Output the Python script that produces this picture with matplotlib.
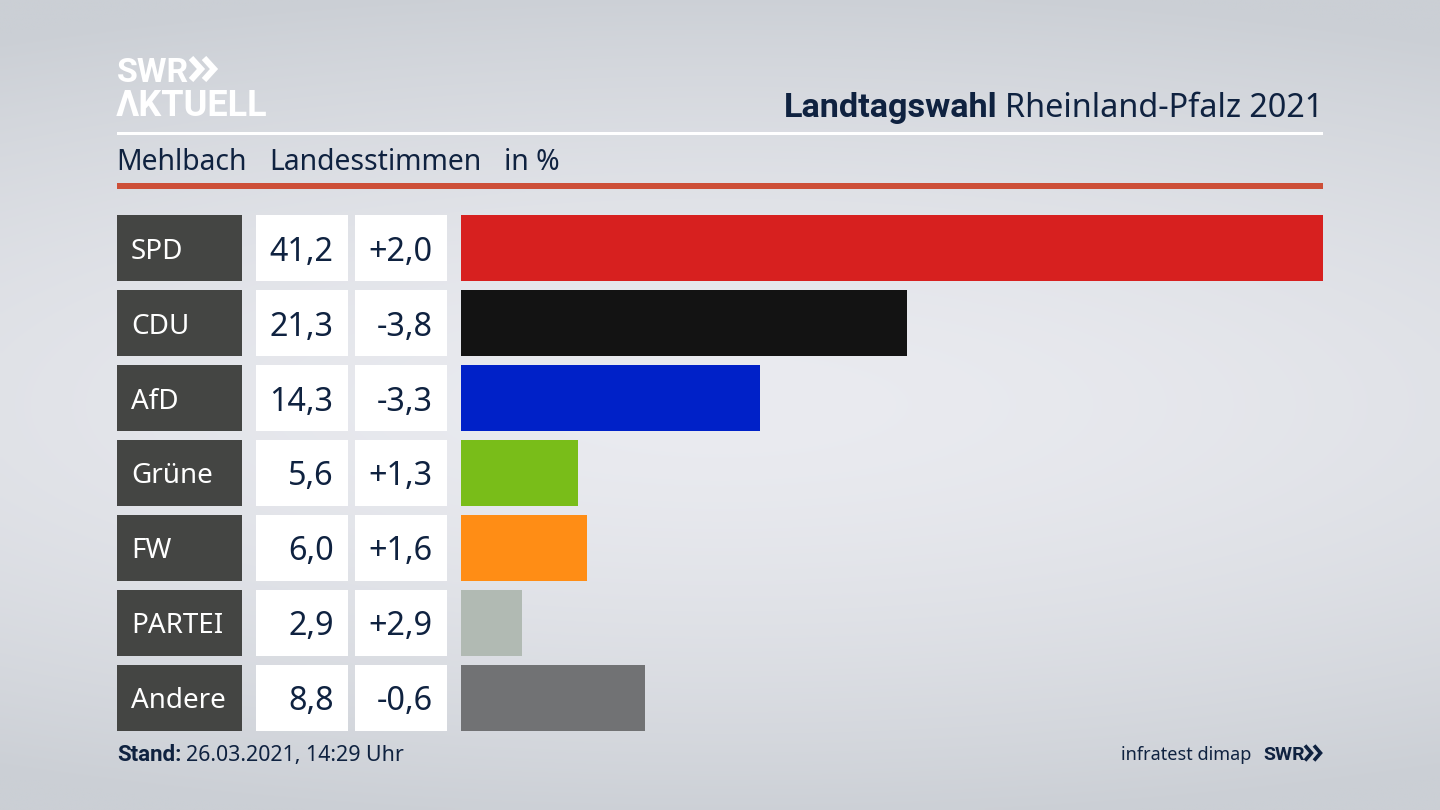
import numpy as np
import matplotlib
matplotlib.use('Agg')
import matplotlib.pyplot as plt

parties = ['SPD', 'CDU', 'AfD', 'Grüne', 'FW', 'PARTEI', 'Andere']
shares = [41.2, 21.3, 14.3, 5.6, 6.0, 2.9, 8.8]
share_labels = ['41,2', '21,3', '14,3', '5,6', '6,0', '2,9', '8,8']
diff_labels = ['+2,0', '-3,8', '-3,3', '+1,3', '+1,6', '+2,9', '-0,6']
colors = ['#d7201f', '#131313', '#0021c8', '#79bd19', '#ff8d15', '#b1bab3', '#717274']

NAVY = '#0f2240'
FONT = 'Noto Sans'
BOLD = 'Roboto'
W, H = 1440, 810
fig = plt.figure(figsize=(W/100, H/100), dpi=100)

# background and page furniture, in pixel coordinates
bg = fig.add_axes([0, 0, 1, 1])
bg.set_xlim(0, W); bg.set_ylim(H, 0); bg.axis('off')
yy, xx = np.mgrid[0:1:200j, 0:1:356j]
d = np.sqrt(((xx-0.5)/1.05)**2 + ((yy-0.5)/0.52)**2)
t = np.clip(d, 0, 1)**1.6
top = np.array([0xea, 0xeb, 0xf0]); edge = np.array([0xcb, 0xcf, 0xd5])
img = top[None, None, :]*(1-t[..., None]) + edge[None, None, :]*t[..., None]
bg.imshow(img/255, extent=[0, W, H, 0], aspect='auto', interpolation='bilinear', zorder=0)

bg.fill_between([117, 1323], 132, 135, color='white', lw=0, zorder=1)
bg.fill_between([117, 1323], 183, 188.5, color='#cd4f38', lw=0, zorder=1)

# logo
bg.text(117, 82, 'SWR', color='white', fontsize=24.4, fontweight='bold', family=BOLD, va='baseline', ha='left')
bg.text(116, 116, 'ΛKTUELL', color='white', fontsize=26, fontweight='bold', family=BOLD, va='baseline', ha='left')
for x0 in (191, 204):
    bg.plot([x0, x0+10, x0], [58, 69, 80], color='white', lw=4.4, solid_joinstyle='miter', solid_capstyle='butt')

# headline
bg.text(1323, 117, 'Rheinland-Pfalz 2021', color=NAVY, fontsize=23.3, family=FONT, ha='right', va='baseline')
bg.text(997.5, 117, 'Landtagswahl', color=NAVY, fontsize=24.7, fontweight='bold', family=BOLD, ha='right', va='baseline')
bg.text(116, 170, 'Mehlbach', color=NAVY, fontsize=20.4, family=FONT, va='baseline')
bg.text(269, 170, 'Landesstimmen', color=NAVY, fontsize=20.4, family=FONT, va='baseline')
bg.text(504, 170, 'in %', color=NAVY, fontsize=20.4, family=FONT, va='baseline')

# footer
bg.text(117, 761, 'Stand:', color=NAVY, fontsize=16, fontweight='bold', family=BOLD, va='baseline')
bg.text(186, 761, '26.03.2021, 14:29 Uhr', color=NAVY, fontsize=15.4, family=FONT, va='baseline')
bg.text(1251, 760, 'infratest dimap', color=NAVY, fontsize=13, family=FONT, ha='right', va='baseline')
bg.text(1263, 760, 'SWR', color=NAVY, fontsize=14, fontweight='bold', family=BOLD, ha='left', va='baseline')
for x0 in (1305, 1314):
    bg.plot([x0, x0+6.5, x0], [745.5, 753, 760.5], color=NAVY, lw=2.6, solid_joinstyle='miter', solid_capstyle='butt')

# rows: one axes per column, sharing the category positions
pitch = 74.93
bar_px = 66.4
top_px, bot_px = 215 - (pitch-bar_px)/2, 731 + (pitch-bar_px)/2
def col_axes(x0, x1):
    a = fig.add_axes([x0/W, 1-bot_px/H, (x1-x0)/W, (bot_px-top_px)/H])
    a.axis('off'); a.patch.set_alpha(0)
    a.set_ylim(len(parties)-0.5, -0.5)
    return a
ypos = np.arange(len(parties))
barh = bar_px/pitch

a_name = col_axes(117, 241.5); a_name.set_xlim(0, 1)
a_name.barh(ypos, 1, height=barh, color='#444543', lw=0)
a_share = col_axes(255.5, 348); a_share.set_xlim(0, 1)
a_share.barh(ypos, 1, height=barh, color='white', lw=0)
a_diff = col_axes(354.5, 447); a_diff.set_xlim(0, 1)
a_diff.barh(ypos, 1, height=barh, color='white', lw=0)
a_bar = col_axes(461, 1323); a_bar.set_xlim(0, 41.2)
a_bar.barh(ypos, shares, height=barh, color=colors, lw=0)

for i, y in enumerate(ypos):
    a_name.text(14/124.5, y, parties[i], color='white', fontsize=20, family=FONT, va='center_baseline', ha='left')
    a_share.text(78/92.5, y, share_labels[i], color=NAVY, fontsize=23.3, family=FONT, va='center_baseline', ha='right')
    a_diff.text(78/92.5, y, diff_labels[i], color=NAVY, fontsize=23.3, family=FONT, va='center_baseline', ha='right')

fig.savefig('out.png', dpi=100)
